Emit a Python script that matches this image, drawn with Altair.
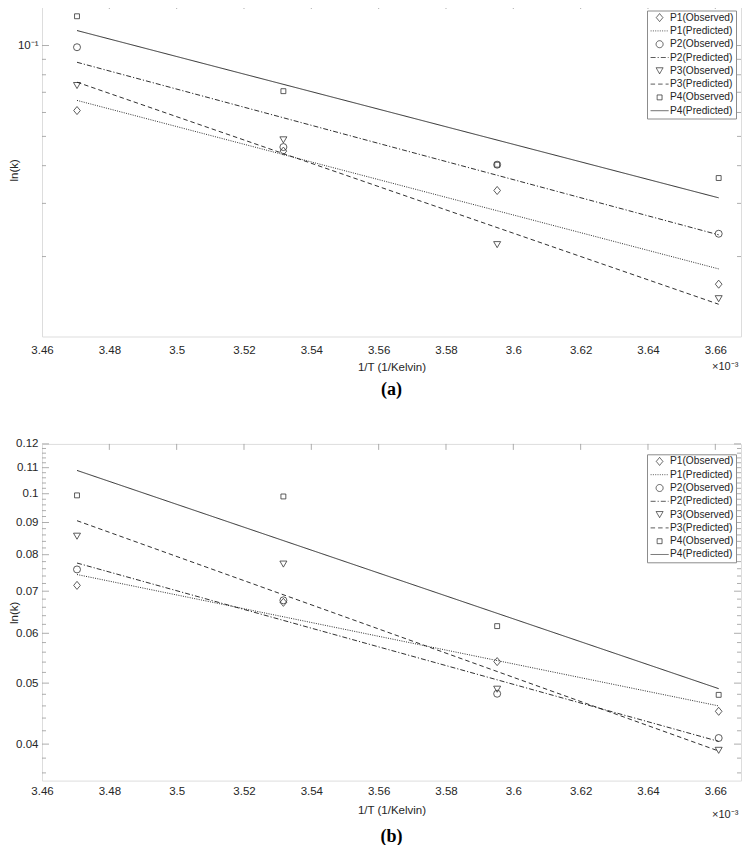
import altair as alt
import pandas as pd

# ---------------- data ----------------
labels = ["P1(Observed)", "P1(Predicted)", "P2(Observed)", "P2(Predicted)",
          "P3(Observed)", "P3(Predicted)", "P4(Observed)", "P4(Predicted)"]

x_obs = [3.4704, 3.5317, 3.5952, 3.6610]      # 1/T (x 10^-3)
x_pred = [3.4704, 3.6610]

# panel (a)
a_p1_obs = [0.0609, 0.0447, 0.0331, 0.0162]
a_p2_obs = [0.0987, 0.0461, 0.0403, 0.0238]
a_p3_obs = [0.0737, 0.0487, 0.0219, 0.0145]
a_p4_obs = [0.1250, 0.0706, 0.0403, 0.0364]
a_p1_pred = [0.0658, 0.0182]
a_p2_pred = [0.0880, 0.0236]
a_p3_pred = [0.0756, 0.0139]
a_p4_pred = [0.1121, 0.0313]

# panel (b)
b_p1_obs = [0.0715, 0.0672, 0.0541, 0.0451]
b_p2_obs = [0.0758, 0.0677, 0.0481, 0.0409]
b_p3_obs = [0.0856, 0.0773, 0.0489, 0.0391]
b_p4_obs = [0.0994, 0.0990, 0.0616, 0.0479]
b_p1_pred = [0.0744, 0.0460]
b_p2_pred = [0.0776, 0.0404]
b_p3_pred = [0.0906, 0.0390]
b_p4_pred = [0.1089, 0.0490]

x_domain = [3.46, 3.66763]
x_ticks = [3.46, 3.48, 3.50, 3.52, 3.54, 3.56, 3.58, 3.60, 3.62, 3.64, 3.66]
x_top_ticks = [3.48, 3.50, 3.52, 3.54, 3.56, 3.58, 3.60, 3.62, 3.64, 3.66]

a_domain = [0.01087, 0.1383]
a_y_major = [0.1]
a_y_minor = [0.02, 0.03, 0.04, 0.05, 0.06, 0.07, 0.08, 0.09]

b_domain = [0.035, 0.12]
b_y_major = [0.04, 0.05, 0.06, 0.07, 0.08, 0.09, 0.10, 0.11, 0.12]
b_y_minor = [0.036, 0.038, 0.042, 0.044, 0.046, 0.048, 0.052, 0.054, 0.056, 0.058,
             0.062, 0.064, 0.066, 0.068, 0.072, 0.074, 0.076, 0.078, 0.082, 0.084,
             0.086, 0.088, 0.092, 0.094, 0.096, 0.098, 0.102, 0.104, 0.106, 0.108,
             0.112, 0.114, 0.116, 0.118]

# ---------------- styles ----------------
W = 699
FONT = "Liberation Sans"
SERIF = "Liberation Serif"
TXT = "#262626"
FRAME = "#999999"

DIAMOND = "M0,-1.15L0.95,0L0,1.15L-0.95,0Z"
SQUARE = "M-0.7,-0.7H0.7V0.7H-0.7Z"
LINE = "M-2.57,0H2.57"
shape_range = [DIAMOND, LINE, "circle", LINE, "triangle-down", LINE, SQUARE, LINE]
dash_range = [[1, 0], [1, 1.3], [1, 0], [5, 2, 1.2, 2], [1, 0], [4.5, 3], [1, 0], [1, 0]]


def panel(obs, pred, y_domain, H, y_major, y_minor, y_axis_extra, caption,
          lab_pad, title_y, exp_y, legend_y):
    obs_rows = []
    for lab, ys in obs:
        for xv, yv in zip(x_obs, ys):
            obs_rows.append({"x": xv, "y": yv, "label": lab})
    pred_rows = []
    for lab, ys in pred:
        for xv, yv in zip(x_pred, ys):
            pred_rows.append({"x": xv, "y": yv, "label": lab})
    obs_df = pd.DataFrame(obs_rows)
    pred_df = pd.DataFrame(pred_rows)

    xs = alt.Scale(domain=x_domain, nice=False, zero=False)
    ysc = alt.Scale(type="log", domain=y_domain, nice=False)

    leg = alt.Legend(title=None, orient="none", legendX=605, legendY=legend_y,
                     strokeColor="#8c8c8c", fillColor="white", padding=2,
                     rowPadding=2.3, labelFont=FONT, labelFontSize=10.2, labelColor=TXT,
                     symbolSize=49, symbolStrokeWidth=0.8, symbolStrokeColor="#333333",
                     symbolFillColor="transparent", symbolOffset=5.5, labelOffset=5.3,
                     cornerRadius=0, labelLimit=200)

    xaxis = alt.Axis(values=x_ticks, format=".2~f", ticks=False, tickSize=0, domain=False,
                     grid=False, labelPadding=lab_pad, labelBaseline="alphabetic",
                     labelFont=FONT, labelFontSize=11.5, labelColor=TXT, labelFlush=False,
                     labelOverlap=False, title="1/T (1/Kelvin)", titleFont=FONT,
                     titleFontSize=11.5, titleFontWeight="normal", titleColor=TXT,
                     titleX=349.5, titleY=title_y, titleBaseline="alphabetic")
    yaxis = alt.Axis(values=y_major, ticks=False, tickSize=0, domain=False, grid=False,
                     labelPadding=4, labelBaseline="middle", labelFont=FONT,
                     labelFontSize=11.5, labelColor=TXT, labelOverlap=False,
                     title="ln(k)", titleFont=FONT, titleFontSize=11.5,
                     titleFontWeight="normal", titleColor=TXT, titleX=-24.5,
                     titleBaseline="alphabetic", **y_axis_extra)

    pts = alt.Chart(obs_df).mark_point(filled=False, size=49, strokeWidth=0.8,
                                       color="#333333", opacity=1).encode(
        x=alt.X("x:Q", scale=xs, axis=xaxis),
        y=alt.Y("y:Q", scale=ysc, axis=yaxis),
        shape=alt.Shape("label:N", scale=alt.Scale(domain=labels, range=shape_range),
                        legend=leg),
    )
    lines = alt.Chart(pred_df).mark_line(strokeWidth=0.9, color="#1a1a1a").encode(
        x=alt.X("x:Q", scale=xs, axis=xaxis),
        y=alt.Y("y:Q", scale=ysc, axis=yaxis),
        strokeDash=alt.StrokeDash("label:N",
                                  scale=alt.Scale(domain=labels, range=dash_range),
                                  legend=leg),
    )

    maj_df = pd.DataFrame({"y": y_major})
    min_df = pd.DataFrame({"y": y_minor})
    top_df = pd.DataFrame({"x": x_top_ticks})

    def yrule(df, x0, x1):
        return alt.Chart(df).mark_rule(color=FRAME, strokeWidth=0.8).encode(
            y=alt.Y("y:Q", scale=ysc, axis=yaxis), x=alt.value(x0), x2=alt.value(x1))

    ticks = [
        yrule(maj_df, 0, 7), yrule(min_df, 0, 4),
        yrule(maj_df, W, W - 7), yrule(min_df, W, W - 4),
        alt.Chart(top_df).mark_rule(color=FRAME, strokeWidth=0.8).encode(
            x=alt.X("x:Q", scale=xs, axis=xaxis), y=alt.value(0), y2=alt.value(6)),
    ]

    expo = alt.Chart(pd.DataFrame({"t": ["\u00d710\u207b\u00b3"]})).mark_text(
        align="left", baseline="alphabetic", font=FONT, fontSize=11, color=TXT
    ).encode(text="t:N", x=alt.value(670), y=alt.value(H + exp_y))

    return alt.layer(pts, lines, *ticks, expo).properties(
        width=W, height=H,
        title=alt.TitleParams(text=caption, orient="bottom", anchor="middle",
                              frame="group", font=SERIF, fontSize=18,
                              fontWeight="bold", color="black", baseline="alphabetic",
                              offset=22),
    )


panel_a = panel(
    [("P1(Observed)", a_p1_obs), ("P2(Observed)", a_p2_obs),
     ("P3(Observed)", a_p3_obs), ("P4(Observed)", a_p4_obs)],
    [("P1(Predicted)", a_p1_pred), ("P2(Predicted)", a_p2_pred),
     ("P3(Predicted)", a_p3_pred), ("P4(Predicted)", a_p4_pred)],
    a_domain, 333.5, a_y_major, a_y_minor,
    {"labelExpr": "'10\u207b\u00b9'"}, "(a)", 17, 34.2, 33, 7.5)

panel_b = panel(
    [("P1(Observed)", b_p1_obs), ("P2(Observed)", b_p2_obs),
     ("P3(Observed)", b_p3_obs), ("P4(Observed)", b_p4_obs)],
    [("P1(Predicted)", b_p1_pred), ("P2(Predicted)", b_p2_pred),
     ("P3(Predicted)", b_p3_pred), ("P4(Predicted)", b_p4_pred)],
    b_domain, 336.7, b_y_major, b_y_minor,
    {"format": ".2~f"}, "(b)", 14, 33.2, 37, 10.4)

chart = alt.vconcat(panel_a, panel_b, spacing=36.9).resolve_scale(
    shape="independent", strokeDash="independent", x="independent", y="independent"
).properties(
    padding={"top": -6, "left": 0, "right": 0, "bottom": 0}
).configure_view(stroke=FRAME, strokeWidth=1).configure(background="white")

chart.save("out.html", embed_options={"renderer": "svg", "actions": False})
